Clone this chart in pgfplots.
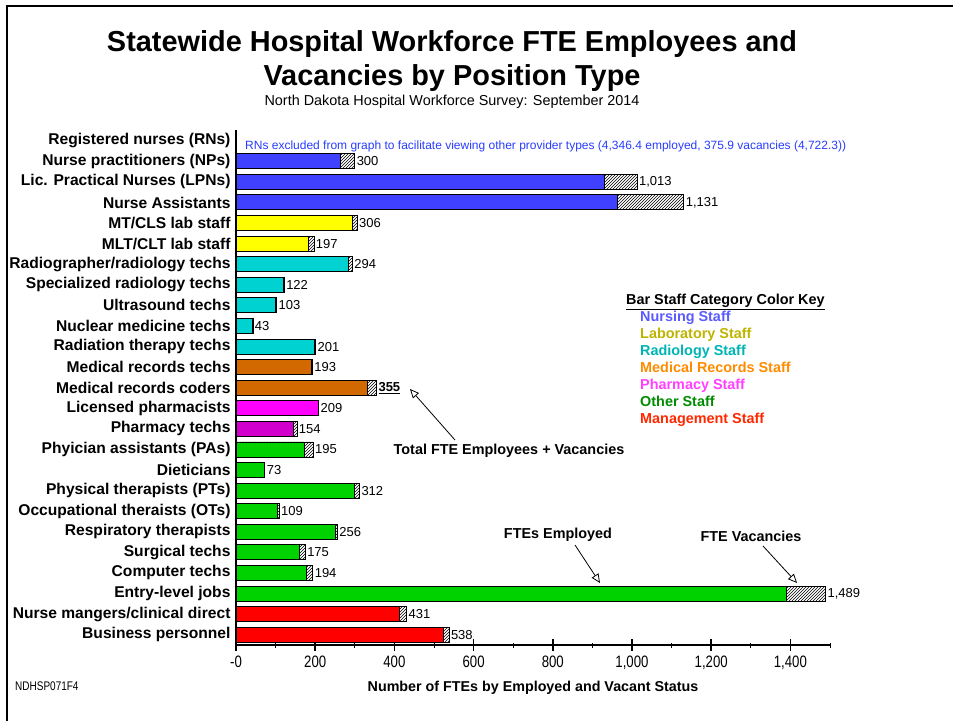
\documentclass[border=0pt]{standalone}
\usepackage{pgfplots}
\pgfplotsset{compat=1.18}
\usepackage{fontspec}
\setmainfont{Liberation Sans}
\newfontfamily\narrowfont[FakeStretch=0.8]{Liberation Sans}
\usetikzlibrary{patterns,arrows.meta}
\definecolor{nurse}{RGB}{64,64,255}
\definecolor{lab}{RGB}{255,255,0}
\definecolor{rad}{RGB}{0,210,210}
\definecolor{medrec}{RGB}{210,105,0}
\definecolor{pharm}{RGB}{255,0,255}
\definecolor{pharmtech}{RGB}{210,0,205}
\definecolor{other}{RGB}{0,210,0}
\definecolor{mgmt}{RGB}{255,0,0}
\definecolor{nurseT}{RGB}{90,90,255}
\definecolor{labT}{RGB}{190,180,0}
\definecolor{radT}{RGB}{0,180,180}
\definecolor{medT}{RGB}{255,140,0}
\definecolor{pharmT}{RGB}{255,64,255}
\definecolor{otherT}{RGB}{0,140,0}
\definecolor{mgmtT}{RGB}{255,40,0}
\definecolor{noteT}{RGB}{40,60,255}
\begin{document}
\begin{tikzpicture}[x=1pt,y=1pt]
\useasboundingbox (0,0) rectangle (953,721);
\draw[line width=2pt] (7,0) -- (7,715) -- (953,715);
\begin{axis}[
  at={(236pt,76pt)}, anchor=south west,
  scale only axis, width=594pt, height=514.6pt,
  xmin=0, xmax=1500, ymin=-0.5, ymax=24.5, y dir=reverse,
  axis x line=bottom, axis y line=left,
  axis line style={line width=1.6pt, -},
  xbar, bar width=15pt, bar shift=0pt,
  xtick={0,200,...,1400},
  xticklabels={-0,200,400,600,800,{1,000},{1,200},{1,400}},
  minor xtick={100,300,...,1500},
  tick align=center, major tick length=12pt, minor tick length=5pt,
  major tick style={line width=1.6pt, black},
  minor tick style={line width=0.8pt, black},
  xticklabel style={font=\narrowfont\fontsize{16.5}{18}\selectfont, yshift=-1pt},
  ytick={0,...,24},
  yticklabels={Registered nurses (RNs),Nurse practitioners (NPs),Lic. Practical Nurses (LPNs),Nurse Assistants,MT/CLS lab staff,MLT/CLT lab staff,Radiographer/radiology techs,Specialized radiology techs,Ultrasound techs,Nuclear medicine techs,Radiation therapy techs,Medical records techs,Medical records coders,Licensed pharmacists,Pharmacy techs,Phyician assistants (PAs),Dieticians,Physical therapists (PTs),Occupational theraists (OTs),Respiratory therapists,Surgical techs,Computer techs,Entry-level jobs,Nurse mangers/clinical direct,Business personnel},
  yticklabel style={font=\bfseries\fontsize{15.6}{17}\selectfont, xshift=4pt},
  y tick style={draw=none},
  xlabel={Number of FTEs by Employed and Vacant Status},
  xlabel style={font=\bfseries\fontsize{14.3}{16}\selectfont, yshift=-5pt},
  /pgf/number format/assume math mode=true,
  clip=false,
]
% totals (hatched = vacancies region)
\addplot[draw=black, line width=0.9pt, fill=white, postaction={pattern=north east lines},
  point meta=explicit symbolic, nodes near coords,
  every node near coord/.style={font=\fontsize{13}{15}\selectfont, anchor=west, inner sep=1.5pt, black}]
 coordinates {
 (300,1) [300] (1013,2) [1{,}013] (1131,3) [1{,}131] (306,4) [306] (197,5) [197]
 (294,6) [294] (122,7) [122] (103,8) [103] (43,9) [43] (201,10) [201]
 (193,11) [193] (355,12) [\textbf{\underline{355}}] (209,13) [209] (154,14) [154]
 (195,15) [195] (73,16) [73] (312,17) [312] (109,18) [109] (256,19) [256]
 (175,20) [175] (194,21) [194] (1489,22) [1{,}489] (431,23) [431] (538,24) [538]
 };
% employed
\addplot[draw=black, line width=0.9pt, fill=nurse] coordinates {(265,1) (931,2) (964,3)};
\addplot[draw=black, line width=0.9pt, fill=lab] coordinates {(293,4) (184,5)};
\addplot[draw=black, line width=0.9pt, fill=rad] coordinates {(283,6) (120,7) (99,8) (42,9) (199,10)};
\addplot[draw=black, line width=0.9pt, fill=medrec] coordinates {(190,11) (333,12)};
\addplot[draw=black, line width=0.9pt, fill=pharm] coordinates {(207,13)};
\addplot[draw=black, line width=0.9pt, fill=pharmtech] coordinates {(145,14)};
\addplot[draw=black, line width=0.9pt, fill=other] coordinates {(172,15) (72,16) (300,17) (104,18) (250,19) (161,20) (177,21) (1389,22)};
\addplot[draw=black, line width=0.9pt, fill=mgmt] coordinates {(412,23) (525,24)};
\end{axis}
% titles
\node[font=\bfseries\fontsize{28.9}{32}\selectfont] at (452,677) {Statewide Hospital Workforce FTE Employees and};
\node[font=\bfseries\fontsize{28.9}{32}\selectfont] at (452,643) {Vacancies by Position Type};
\node[font=\fontsize{14.4}{16}\selectfont] at (452,619) {North Dakota Hospital Workforce Survey: September 2014};
\node[font=\fontsize{12}{14}\selectfont, text=noteT, anchor=west, inner sep=0pt] at (245,575) {RNs excluded from graph to facilitate viewing other provider types (4,346.4 employed, 375.9 vacancies (4,722.3))};
% colour key
\node[font=\bfseries\fontsize{14.4}{16}\selectfont, anchor=base west, inner sep=0pt] at (626,416) {\underline{Bar Staff Category Color Key}};
\node[font=\bfseries\fontsize{14.4}{16}\selectfont, anchor=base west, inner sep=0pt, text=nurseT] at (640,399) {Nursing Staff};
\node[font=\bfseries\fontsize{14.4}{16}\selectfont, anchor=base west, inner sep=0pt, text=labT] at (640,382) {Laboratory Staff};
\node[font=\bfseries\fontsize{14.4}{16}\selectfont, anchor=base west, inner sep=0pt, text=radT] at (640,365) {Radiology Staff};
\node[font=\bfseries\fontsize{14.4}{16}\selectfont, anchor=base west, inner sep=0pt, text=medT] at (640,348) {Medical Records Staff};
\node[font=\bfseries\fontsize{14.4}{16}\selectfont, anchor=base west, inner sep=0pt, text=pharmT] at (640,331) {Pharmacy Staff};
\node[font=\bfseries\fontsize{14.4}{16}\selectfont, anchor=base west, inner sep=0pt, text=otherT] at (640,314) {Other Staff};
\node[font=\bfseries\fontsize{14.4}{16}\selectfont, anchor=base west, inner sep=0pt, text=mgmtT] at (640,297) {Management Staff};
% annotations
\node[font=\bfseries\fontsize{14.4}{16}\selectfont] at (509,270) {Total FTE Employees + Vacancies};
\draw[line width=0.8pt, -{Triangle[open, length=9pt, width=8pt]}] (455,281) -- (410,332);
\node[font=\bfseries\fontsize{14.4}{16}\selectfont] at (558,186) {FTEs Employed};
\draw[line width=0.8pt, -{Triangle[open, length=9pt, width=8pt]}] (575,176) -- (600,138);
\node[font=\bfseries\fontsize{14.4}{16}\selectfont] at (751,185) {FTE Vacancies};
\draw[line width=0.8pt, -{Triangle[open, length=9pt, width=8pt]}] (763,175) -- (797,138);
\node[font=\narrowfont\fontsize{12.5}{14}\selectfont, anchor=west, inner sep=0pt] at (15,35) {NDHSP071F4};
\end{tikzpicture}
\end{document}
